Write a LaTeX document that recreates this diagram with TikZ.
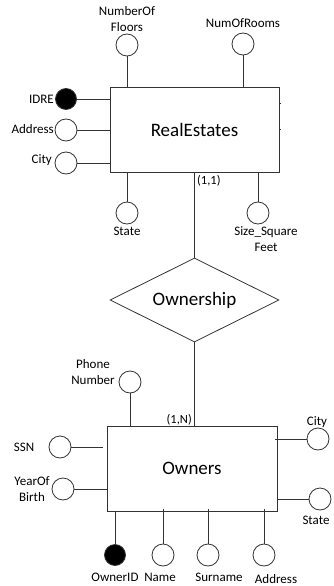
\documentclass[tikz,border=0pt]{standalone}
\usepackage{fontspec}
\setmainfont{Carlito}
\usetikzlibrary{shapes.geometric}
\begin{document}
\begin{tikzpicture}[x=1pt,y=-1pt,
  line/.style={draw=black!80,line width=0.8pt},
  entity/.style={line,rectangle,minimum width=169pt,minimum height=85pt,
    inner sep=0pt,font=\fontsize{19}{22}\selectfont},
  relation/.style={line,diamond,aspect=2,minimum width=169pt,minimum height=84pt,
    inner sep=0pt,font=\fontsize{19}{22}\selectfont},
  attr/.style={line,circle,fill=white,minimum size=22pt,inner sep=0pt},
  keyattr/.style={line,circle,fill=black,minimum size=21pt,inner sep=0pt},
  lbl/.style={inner sep=0pt,font=\fontsize{13}{16}\selectfont,align=center},
  card/.style={inner sep=0pt,font=\fontsize{12.5}{14}\selectfont}]
\useasboundingbox (0,0) rectangle (333,586);

% entities and relationship
\node[entity] (re) at (194.5,129.5) {RealEstates};
\node[relation] (own) at (194.5,300) {Ownership};
\node[entity,minimum width=170pt] (ow) at (192,468.5) {Owners};

% RealEstates attributes
\node[attr] (nof) at (127,45) {};
\node[lbl] (nofl) at (127,19) {NumberOf\\Floors};
\node[attr] (nor) at (243,44) {};
\node[lbl] (norl) at (243,23) {NumOfRooms};
\node[keyattr] (idre) at (66,99) {};
\node[lbl,anchor=east] (idrel) at (54,99) {IDRE};
\node[attr] (addr) at (66,130) {};
\node[lbl,anchor=east] (addrl) at (54,129) {Address};
\node[attr] (city) at (66,163) {};
\node[lbl,anchor=east] (cityl) at (52,160) {City};
\node[attr] (st) at (127,213) {};
\node[lbl] (stl) at (127,231) {State};
\node[attr] (ssf) at (258,213) {};
\node[lbl] (ssfl) at (266,239) {Size\_Square\\Feet};

\draw[line] (nof) -- (nof |- re.north);
\draw[line] (nor) -- (nor |- re.north);
\draw[line] (idre) -- (idre -| re.west);
\draw[line] (addr) -- (addr -| re.west);
\draw[line] (city) -- (city -| re.west);
\draw[line] (st) -- (st |- re.south);
\draw[line] (ssf) -- (ssf |- re.south);
\coordinate (stubA) at ([xshift=2pt]re.east |- 0,103);
\coordinate (stubB) at ([xshift=2pt]re.east |- 0,129);
\draw[line] (stubA -| re.east) -- (stubA);
\draw[line] (stubB -| re.east) -- (stubB);

% relationship lines with cardinalities
\draw[line] (re.south) -- (own.north);
\draw[line] (own.south) -- (own.south |- ow.north);
\node[card,anchor=west] (c11) at (197,181) {(1,1)};
\node[card,anchor=east] (c1n) at (192,420) {(1,N)};

% Owners attributes
\node[attr] (ph) at (130,382) {};
\node[lbl] (phl) at (93,372) {Phone\\Number};
\node[attr] (ssn) at (60,447) {};
\node[lbl] (ssnl) at (24,447) {SSN};
\node[attr] (yob) at (63,489) {};
\node[lbl] (yobl) at (32,489) {YearOf\\Birth};
\node[attr] (oc) at (318,439) {};
\node[lbl] (ocl) at (317,422) {City};
\node[attr] (os) at (320,499) {};
\node[lbl] (osl) at (316,520) {State};
\node[keyattr] (oid) at (115,555) {};
\node[lbl] (oidl) at (115,577) {OwnerID};
\node[attr] (nm) at (163,555) {};
\node[lbl] (nml) at (160,577) {Name};
\node[attr] (sn) at (208,555) {};
\node[lbl] (snl) at (219,577) {Surname};
\node[attr] (oa) at (264,555) {};
\node[lbl] (oal) at (276,579) {Address};

\draw[line] (ph) -- (ph |- ow.north);
\draw[line] (ssn) -- ([xshift=-4pt]ssn -| ow.west);
\draw[line] (yob) -- (yob -| ow.west);
\draw[line] (oc) -- ([xshift=-2pt]oc -| ow.east);
\draw[line] (os) -- (os -| ow.east);
\draw[line] (oid) -- (oid |- ow.south);
\draw[line] (nm) -- ([yshift=2pt]nm |- ow.south);
\draw[line] (sn) -- ([yshift=2pt]sn |- ow.south);
\draw[line] (oa) -- ([yshift=2pt]oa |- ow.south);
\end{tikzpicture}
\end{document}
